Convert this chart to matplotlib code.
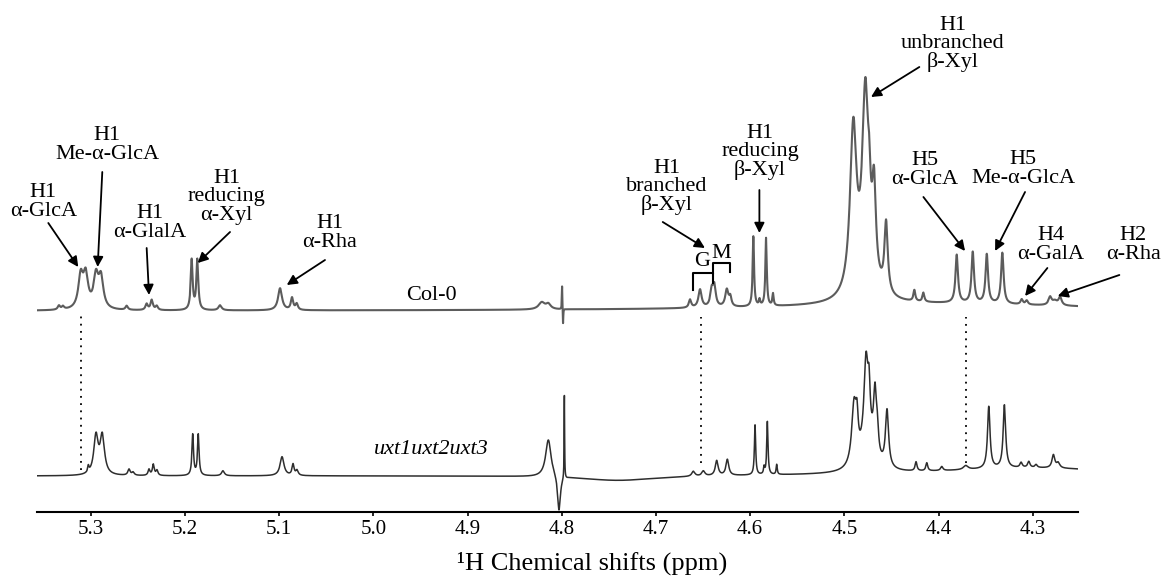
import numpy as np
import matplotlib.pyplot as plt

plt.rcParams['font.family'] = ['Liberation Serif', 'DejaVu Serif']

# 1H chemical shift window (ppm), axis reversed as usual for NMR
ppm_left = 5.357
ppm_right = 4.252
tick_ppm = [5.3, 5.2, 5.1, 5.0, 4.9, 4.8, 4.7, 4.6, 4.5, 4.4, 4.3]

# Col-0 spectrum: peak centre (ppm), height, half width (ppm)
col0_base = 201
col0_shift = [5.3337, 5.3294, 5.3106, 5.3053, 5.2944, 5.2891, 5.2618,
              5.2406, 5.2352, 5.2299, 5.1928, 5.1868, 5.1627,
              5.0990, 5.0863, 5.0813, 4.8212, 4.8142, 4.7996, 4.7986,
              4.6638, 4.6532, 4.6408, 4.6380, 4.6248, 4.6211,
              4.5966, 4.5900, 4.5831, 4.5757,
              4.4750, 4.4905, 4.4777, 4.4735, 4.4685, 4.4557,
              4.4257, 4.4161, 4.3807, 4.3637, 4.3488, 4.3323,
              4.3117, 4.3064, 4.2816, 4.2765, 4.2710, 4.4000]
col0_height = [4, 3, 32, 32, 31, 30, 4,
               6, 10, 4, 50, 50, 5,
               22, 12, 6, 7, 5, 24, -16,
               8, 18, 16, 20, 17, 9,
               70, 6, 68, 12,
               22, 165, 182, 35, 85, 70,
               11, 9, 48, 51, 49, 51,
               5, 4, 8, 4, 8, 7]
col0_width = [0.0015, 0.0015, 0.0030, 0.0030, 0.0030, 0.0030, 0.0015,
              0.0015, 0.0015, 0.0015, 0.0012, 0.0012, 0.0020,
              0.0025, 0.0015, 0.0015, 0.0040, 0.0030, 0.0003, 0.0003,
              0.0015, 0.0020, 0.0018, 0.0018, 0.0020, 0.0015,
              0.0009, 0.0008, 0.0009, 0.0008,
              0.0090, 0.0042, 0.0040, 0.0015, 0.0023, 0.0021,
              0.0012, 0.0012, 0.0016, 0.0016, 0.0016, 0.0016,
              0.0015, 0.0015, 0.0020, 0.0030, 0.0020, 0.2000]

# uxt1uxt2uxt3 spectrum
uxt_base = 36
uxt_shift = [5.3025, 5.2944, 5.2877, 5.2593, 5.2550,
             5.2381, 5.2335, 5.2296, 5.1917, 5.1858, 5.1596,
             5.0969, 5.0852, 5.0810, 4.8142, 4.8029, 4.7972,
             4.6603, 4.6497, 4.6355, 4.6242,
             4.5948, 4.5852, 4.5817, 4.5718,
             4.4750, 4.4897, 4.4866, 4.4770, 4.4738, 4.4674, 4.4648, 4.4547,
             4.4239, 4.4125, 4.3966, 4.3711, 4.3467, 4.3301,
             4.3124, 4.3042, 4.2965, 4.2781, 4.2730, 4.7400, 4.3000]
uxt_height = [6, 38, 38, 6, 3,
              6, 11, 5, 41, 41, 5,
              19, 11, 5, 38, -36, 84,
              5, 5, 15, 16,
              50, 7, 53, 10,
              28, 60, 30, 82, 40, 63, 18, 57,
              9, 8, 4, 4, 62, 63,
              5, 6, 3, 13, 5, -5, 8]
uxt_width = [0.0008, 0.0028, 0.0028, 0.0015, 0.0015,
             0.0012, 0.0012, 0.0012, 0.0010, 0.0010, 0.0018,
             0.0025, 0.0013, 0.0015, 0.0035, 0.0018, 0.0003,
             0.0020, 0.0020, 0.0018, 0.0018,
             0.0008, 0.0007, 0.0008, 0.0007,
             0.0080, 0.0030, 0.0015, 0.0026, 0.0014, 0.0020, 0.0013, 0.0020,
             0.0012, 0.0012, 0.0015, 0.0030, 0.0016, 0.0016,
             0.0015, 0.0015, 0.0015, 0.0018, 0.0020, 0.0500, 0.1200]


def spectrum(ppm, base, shift, height, width):
    c = np.array(shift)[:, None]
    h = np.array(height)[:, None]
    g = np.array(width)[:, None]
    return base + (h / (1 + ((ppm[None, :] - c) / g) ** 2)).sum(axis=0)


ppm = np.linspace(ppm_right, ppm_left, 30000)
col0 = spectrum(ppm, col0_base, col0_shift, col0_height, col0_width)
uxt = spectrum(ppm, uxt_base, uxt_shift, uxt_height, uxt_width)

fig = plt.figure(figsize=(11.65, 5.76), dpi=100)
ax = fig.add_axes([37 / 1165, 64 / 576, 1041 / 1165, 512 / 576])

ax.plot(ppm, col0, color='#5c5c5c', lw=1.5)
ax.plot(ppm, uxt, color='#2e2e2e', lw=1.1)

# dotted guides linking the two traces
for x, y0, y1 in [(5.3103, 42, 199), (4.6521, 49, 195), (4.3711, 49, 195)]:
    ax.plot([x, x], [y0, y1], color='black', lw=1.3, ls=(0, (1, 3)))

ax.text(4.938, 217, 'Col-0', fontsize=16, ha='center', va='center')
ax.text(4.938, 62, 'uxt1uxt2uxt3', fontsize=16, style='italic',
        ha='center', va='center')

# peak labels: text, text centre, arrow tail, arrow head
labels = [
    ('H1\nα-GlcA', (5.3503, 310), (5.3450, 289), (5.3132, 245)),
    ('H1\nMe-α-GlcA', (5.2824, 367), (5.2877, 340), (5.2926, 245)),
    ('H1\nα-GlalA', (5.2370, 289), (5.2406, 264), (5.2381, 217)),
    ('H1\nreducing\nα-Xyl', (5.1556, 315), (5.1521, 280), (5.1864, 249)),
    ('H1\nα-Rha', (5.0460, 279), (5.0513, 252), (5.0919, 227)),
    ('H1\nbranched\nβ-Xyl', (4.6885, 325), (4.6928, 290), (4.6480, 264)),
    ('H1\nreducing\nβ-Xyl', (4.5895, 360), (4.5902, 322), (4.5902, 279)),
    ('H1\nunbranched\nβ-Xyl', (4.3849, 468), (4.4204, 445), (4.4717, 415)),
    ('H5\nα-GlcA', (4.4143, 342), (4.4161, 315), (4.3719, 261)),
    ('H5\nMe-α-GlcA', (4.3100, 343), (4.3082, 320), (4.3400, 261)),
    ('H4\nα-GalA', (4.2806, 267), (4.2845, 244), (4.3082, 216)),
    ('H2\nα-Rha', (4.1932, 267), (4.2081, 237), (4.2735, 216)),
]
for txt, (tx, ty), tail, head in labels:
    ax.text(tx, ty, txt, fontsize=16, ha='center', va='center',
            linespacing=0.95, clip_on=False)
    ax.annotate('', xy=head, xytext=tail, annotation_clip=False,
                arrowprops=dict(arrowstyle='-|>', color='black', lw=1.3,
                                mutation_scale=15, shrinkA=0, shrinkB=0))

# G / M brackets on the branched xylose signal
ax.plot([4.6609, 4.6609, 4.6397, 4.6397], [222, 239, 239, 229],
        color='black', lw=1.5)
ax.plot([4.6397, 4.6397, 4.6213, 4.6213], [239, 249, 249, 240],
        color='black', lw=1.5)
ax.text(4.6514, 250, 'G', fontsize=16, ha='center', va='center')
ax.text(4.6302, 259, 'M', fontsize=16, ha='center', va='center')

ax.set_xlim(ppm_left, ppm_right)
ax.set_ylim(0, 512)
ax.set_xticks(tick_ppm)
ax.set_xticklabels([f'{t:.1f}' for t in tick_ppm], fontsize=15)
ax.tick_params(axis='x', direction='out', length=3, width=1.2, pad=2.5)
ax.set_yticks([])
for side in ('top', 'left', 'right'):
    ax.spines[side].set_visible(False)
ax.spines['bottom'].set_linewidth(1.5)

ax.set_xlabel('¹H Chemical shifts (ppm)', fontsize=19)
ax.xaxis.set_label_coords(0.533, -0.0996)
ax.xaxis.label.set_va('center')

fig.savefig('out.png', dpi=100)
